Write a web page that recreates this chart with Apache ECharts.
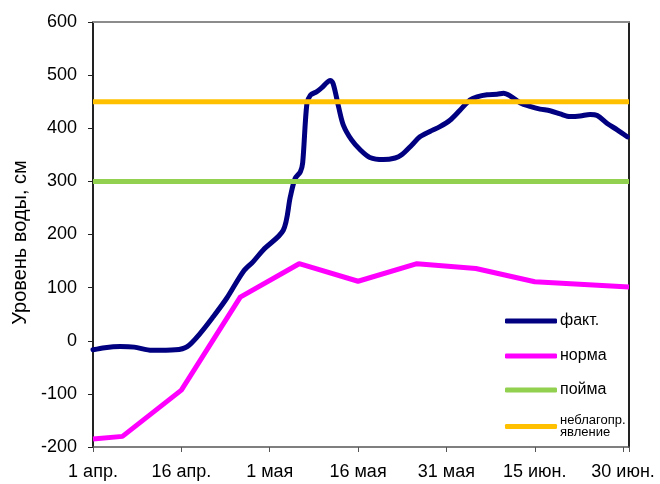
<!DOCTYPE html>
<html>
<head>
<meta charset="utf-8">
<script src="https://cdn.jsdelivr.net/npm/echarts@6/dist/echarts.min.js"></script>
<style>
html,body{margin:0;padding:0;background:#fff;}
#chart{width:660px;height:484px;}
</style>
</head>
<body>
<div id="chart"></div>
<script>
// Days counted from 1 April
var tickDays = [0, 15, 30, 45, 60, 75, 90];
var tickLabels = ['1 апр.', '16 апр.', '1 мая', '16 мая', '31 мая', '15 июн.', '30 июн.'];

var factDays = [0, 2, 4.6, 7, 10, 14, 16, 18.2, 20.4, 22.7, 25.5, 27.2, 28.9, 32.3, 33.5, 34.3, 35.2, 35.6, 36.3, 36.9, 38, 38.8, 40.3, 40.8, 41.7, 42.5, 43.9, 45.4, 47, 49.3, 51.3, 52.4, 54.1, 55.5, 57.2, 58.9, 60.6, 62.3, 64, 65.2, 66.9, 68.6, 69.7, 70.8, 72.5, 74.2, 75.9, 77.6, 79.3, 81, 82.7, 84.4, 85.6, 87.3, 89, 90.7];
var factValues = [-17, -13, -11, -12, -18, -17, -11, 14, 45, 80, 130, 149, 171, 208, 271, 305, 318, 335, 445, 462, 469, 476, 490, 483, 440, 406, 378, 359, 345, 341, 344, 350, 368, 384, 394, 403, 415, 434, 453, 459, 463, 464, 466, 461, 448, 441, 436, 433, 427, 422, 423, 426, 424, 409, 397, 384];

var normDays = [0, 5, 15, 25, 35, 45, 55, 65, 75, 91];
var normValues = [-185, -180, -93, 82, 145, 112, 145, 136, 111, 101];

var floodDays = [0, 91];
var floodValues = [300, 300];
var dangerDays = [0, 91];
var dangerValues = [450, 450];

var seriesNames = ['факт.', 'норма', 'пойма', 'неблагопр. явление'];

function pairs(xs, ys) { return xs.map(function (x, i) { return [x, ys[i]]; }); }

var chart = echarts.init(document.getElementById('chart'), null, {renderer: 'canvas'});
var font = 'Liberation Sans, Arial, sans-serif';

function legendAt(name, top, size, extra) {
  var l = {
    data: [name], orient: 'vertical', left: 505, top: top, padding: 0,
    width: 150,
    itemWidth: 52, itemHeight: 5, itemGap: 0, icon: 'roundRect',
    textStyle: {fontFamily: font, fontSize: size, color: '#000', padding: [0, 0, 0, -2]},
    selectedMode: false
  };
  if (extra) { for (var k in extra) l[k] = extra[k]; }
  return l;
}

chart.setOption({
  animation: false,
  backgroundColor: '#fff',
  grid: {left: 93, right: 31, top: 22, bottom: 37},
  legend: [
    legendAt(seriesNames[0], 313, 16),
    legendAt(seriesNames[1], 348, 16),
    legendAt(seriesNames[2], 382, 16),
    legendAt(seriesNames[3], 414, 13, {
      formatter: function () { return 'неблагопр.\nявление'; },
      textStyle: {fontFamily: font, fontSize: 13, lineHeight: 12, color: '#000', padding: [0, 0, 0, -2], overflow: 'none'}
    })
  ],
  xAxis: [{
    type: 'value', min: 0, max: 91, interval: 15,
    axisLine: {show: true, onZero: false, lineStyle: {color: '#555', width: 1.5}},
    axisTick: {show: true, length: 5, lineStyle: {color: '#555'}},
    splitLine: {show: false},
    axisLabel: {
      margin: 16, fontFamily: font, fontSize: 18, color: '#000',
      formatter: function (v) { var i = tickDays.indexOf(v); return i >= 0 ? tickLabels[i] : ''; }
    }
  }, {
    type: 'value', min: 0, max: 91, position: 'top',
    axisLine: {show: true, onZero: false, lineStyle: {color: '#8c8c8c', width: 2}},
    axisTick: {show: false}, axisLabel: {show: false}, splitLine: {show: false}
  }],
  yAxis: [{
    type: 'value', min: -200, max: 600, interval: 100,
    name: 'Уровень воды, см', nameLocation: 'middle', nameGap: 58,
    nameTextStyle: {fontFamily: font, fontSize: 20, color: '#000', padding: [0, 16, 0, 0]},
    axisLine: {show: true, onZero: false, lineStyle: {color: '#222', width: 2}},
    axisTick: {show: true, length: 5, lineStyle: {color: '#222'}},
    splitLine: {show: false},
    axisLabel: {margin: 16, fontFamily: font, fontSize: 18, color: '#000'}
  }, {
    type: 'value', min: -200, max: 600, position: 'right',
    axisLine: {show: true, onZero: false, lineStyle: {color: '#222', width: 2}},
    axisTick: {show: false}, axisLabel: {show: false}, splitLine: {show: false}
  }],
  series: [{
    name: seriesNames[0], type: 'line', data: pairs(factDays, factValues),
    smooth: 0.3, showSymbol: false, color: '#000080',
    lineStyle: {width: 5, color: '#000080', cap: 'round', join: 'round'}
  }, {
    name: seriesNames[1], type: 'line', data: pairs(normDays, normValues),
    showSymbol: false, color: '#FF00FF',
    lineStyle: {width: 5, color: '#FF00FF', join: 'round'}
  }, {
    name: seriesNames[2], type: 'line', data: pairs(floodDays, floodValues),
    showSymbol: false, color: '#92D050',
    lineStyle: {width: 5, color: '#92D050'}
  }, {
    name: seriesNames[3], type: 'line', data: pairs(dangerDays, dangerValues),
    showSymbol: false, color: '#FFC000',
    lineStyle: {width: 5, color: '#FFC000'}
  }]
});
</script>
</body>
</html>
